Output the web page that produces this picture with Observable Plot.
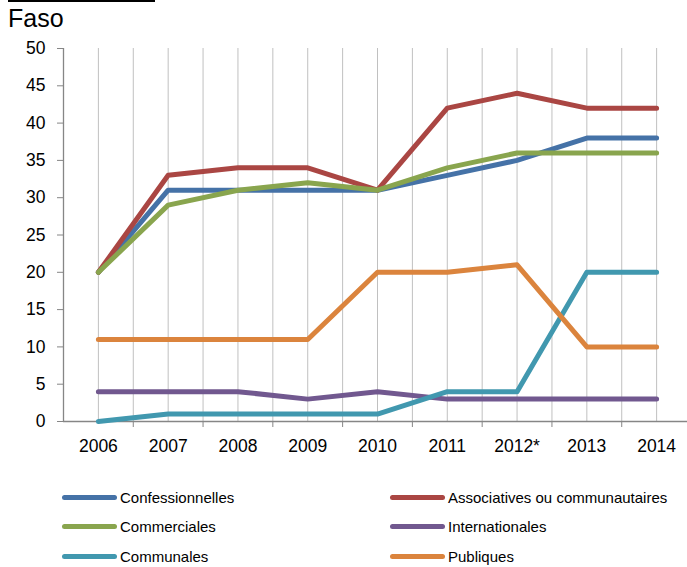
<!DOCTYPE html>
<html>
<head>
<meta charset="utf-8">
<script src="https://cdn.jsdelivr.net/npm/d3@7"></script>
<script src="https://cdn.jsdelivr.net/npm/@observablehq/plot@0.6"></script>
<style>
  html, body { margin: 0; padding: 0; background: #fff; }
  body { width: 687px; height: 567px; overflow: hidden; font-family: "Liberation Sans", Arial, sans-serif; }
  #header { position: relative; height: 36px; }
  #rule { position: absolute; left: 8px; top: 0px; width: 147px; height: 2px; background: #000; }
  #title { position: absolute; left: 8px; top: 6px; font-size: 25px; line-height: 25px; color: #000; }
  #chart svg { display: block; overflow: visible; }
  #legend { position: relative; height: 91px; font-size: 15px; color: #000; }
  .item { position: absolute; display: flex; align-items: center; height: 20px; }
  .sw { width: 55px; height: 5px; border-radius: 3px; margin-right: 3px; }
</style>
</head>
<body>
<div id="header"><div id="rule"></div><div id="title">Faso</div></div>
<div id="chart"></div>
<div id="legend"></div>
<script>
const years = ["2006", "2007", "2008", "2009", "2010", "2011", "2012*", "2013", "2014"];
const seriesNames = ["Confessionnelles", "Associatives ou communautaires", "Commerciales", "Internationales", "Communales", "Publiques"];
const seriesColors = ["#4572A7", "#AA4643", "#89A54E", "#71588F", "#4198AF", "#DB843D"];
const confessionnelles = [20, 31, 31, 31, 31, 33, 35, 38, 38];
const associatives = [20, 33, 34, 34, 31, 42, 44, 42, 42];
const commerciales = [20, 29, 31, 32, 31, 34, 36, 36, 36];
const internationales = [4, 4, 4, 3, 4, 3, 3, 3, 3];
const communales = [0, 1, 1, 1, 1, 4, 4, 20, 20];
const publiques = [11, 11, 11, 11, 20, 20, 21, 10, 10];
const yTicks = [0, 5, 10, 15, 20, 25, 30, 35, 40, 45, 50];

const allValues = [confessionnelles, associatives, commerciales, internationales, communales, publiques];
const data = [];
allValues.forEach((vals, s) => vals.forEach((v, i) => data.push({series: seriesNames[s], i, value: v})));

const centers = years.map((_, i) => i);
const bounds = years.slice(1).map((_, i) => i + 0.5);
const grid = centers.concat(bounds);

const axisColor = "#868686";
const chart = Plot.plot({
  width: 687,
  height: 440,
  marginTop: 12,
  marginBottom: 55,
  marginLeft: 63,
  marginRight: 0,
  style: {fontFamily: "'Liberation Sans', Arial, sans-serif", background: "transparent", overflow: "visible"},
  x: {type: "linear", domain: [-0.5, 8.5], range: [63, 691]},
  y: {domain: [0, 50], range: [385, 12]},
  color: {domain: seriesNames, range: seriesColors},
  marks: [
    Plot.ruleX(grid, {x: d => d, y1: 0, y2: 50, stroke: "#c0c0c0", strokeWidth: 1}),
    Plot.axisY({ticks: yTicks, tickSize: 6, tickPadding: 12, stroke: axisColor, fill: "#000", fontSize: 17.5, label: null, tickFormat: d => String(d)}),
    Plot.axisX({ticks: centers, tickSize: 0, tickPadding: 18, fill: "#000", fontSize: 17.5, label: null, tickFormat: i => years[i]}),
    Plot.axisX({ticks: bounds, tickSize: 6, stroke: axisColor, label: null, tickFormat: () => ""}),
    Plot.ruleX([-0.5], {y1: 0, y2: 50, stroke: axisColor, strokeWidth: 1.3}),
    Plot.ruleY([0], {x1: -0.5, x2: 8.5, stroke: axisColor, strokeWidth: 1.3}),
    Plot.line(data, {x: "i", y: "value", z: "series", stroke: "series", strokeWidth: 5, strokeLinejoin: "round", strokeLinecap: "round"})
  ]
});
document.getElementById("chart").appendChild(chart);

const legend = document.getElementById("legend");
const pos = [[62, 0], [390, 0], [62, 1], [390, 1], [62, 2], [390, 2]];
seriesNames.forEach((name, s) => {
  const [x, row] = pos[s];
  const it = document.createElement("div");
  it.className = "item";
  it.style.left = x + "px";
  it.style.top = (11 + row * 29.5) + "px";
  const sw = document.createElement("div");
  sw.className = "sw";
  sw.style.background = seriesColors[s];
  const tx = document.createElement("span");
  tx.textContent = name;
  it.appendChild(sw);
  it.appendChild(tx);
  legend.appendChild(it);
});
</script>
</body>
</html>
